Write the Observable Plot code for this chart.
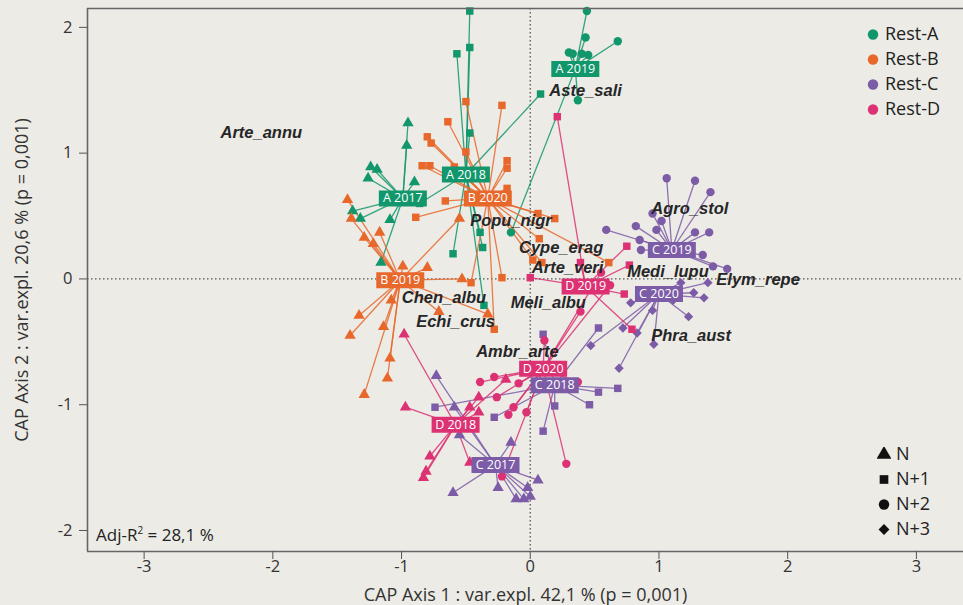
<!DOCTYPE html>
<html><head><meta charset="utf-8">
<script src="https://cdn.jsdelivr.net/npm/d3@7"></script>
<script src="https://cdn.jsdelivr.net/npm/@observablehq/plot@0.6"></script>
<style>
html,body{margin:0;padding:0;background:#ecebe6;}
#wrap{position:relative;width:963px;height:605px;overflow:hidden;font-family:"Open Sans",sans-serif;color:#222;}
.leg{position:absolute;font-size:18px;line-height:1;white-space:nowrap;}
.leg svg{vertical-align:middle;margin-right:5px;margin-top:-3px;}
</style></head><body><div id="wrap"></div>
<script>
// ---- data ----
const rests = ["Rest-A", "Rest-B", "Rest-C", "Rest-D"];
const restColors = ["#12966b", "#e8672b", "#7c5ca7", "#dc3273"];
const stages = ["N", "N+1", "N+2", "N+3"];
const stageSymbols = ["triangle", "square", "circle", "diamond2"];

const groupNames = ["A 2017", "A 2018", "A 2019", "B 2019", "B 2020", "C 2017", "C 2018", "C 2019", "C 2020", "D 2018", "D 2019", "D 2020"];
const groupRest  = ["Rest-A", "Rest-A", "Rest-A", "Rest-B", "Rest-B", "Rest-C", "Rest-C", "Rest-C", "Rest-C", "Rest-D", "Rest-D", "Rest-D"];
const groupStage = ["N", "N+1", "N+2", "N", "N+1", "N", "N+1", "N+2", "N+3", "N", "N+1", "N+2"];
const centroidX  = [-0.99, -0.50, 0.35, -1.01, -0.33, -0.27, 0.19, 1.10, 1.00, -0.58, 0.43, 0.10];
const centroidY  = [0.64, 0.83, 1.67, -0.01, 0.64, -1.48, -0.845, 0.23, -0.12, -1.16, -0.06, -0.715];

const sitesA2017 = [[-0.95,1.24],[-0.96,1.06],[-1.24,0.89],[-1.19,0.87],[-1.26,0.80],[-0.90,0.77],[-1.38,0.54],[-1.32,0.48],[-1.09,0.47],[-1.16,0.13]];
const sitesA2018 = [[-0.47,2.13],[-0.47,1.84],[-0.57,1.79],[-0.47,1.16],[0.08,1.47],[-0.86,0.60],[-0.39,0.37],[-0.37,0.25],[-0.60,0.20],[-0.36,-0.21]];
const sitesA2019 = [[0.44,2.13],[0.43,1.92],[0.68,1.89],[0.30,1.80],[0.33,1.79],[0.40,1.79],[0.45,1.78],[0.37,1.42],[-0.15,0.37]];
const sitesB2019 = [[-1.42,0.63],[-1.39,0.48],[-1.29,0.33],[-1.22,0.28],[-1.17,0.37],[-0.99,0.10],[-0.80,0.09],[-0.55,0.48],[-0.53,0.00],[-0.71,-0.26],[-0.33,-0.28],[-1.33,-0.29],[-1.40,-0.45],[-1.14,-0.38],[-1.08,-0.17],[-1.09,-0.63],[-1.11,-0.79],[-1.29,-0.92]];
const sitesB2020 = [[-0.50,1.41],[-0.22,1.38],[-0.64,1.25],[-0.80,1.13],[-0.77,1.08],[-0.50,1.01],[-0.84,0.90],[-0.78,0.90],[-0.59,0.89],[-0.18,0.94],[-0.18,0.88],[-0.66,0.62],[-0.89,0.49],[-0.18,0.72],[0.06,0.52],[0.19,0.48],[0.02,0.15],[0.09,0.13],[0.07,0.32],[0.61,0.13],[-0.46,-0.03],[-0.22,0.01],[-0.28,-0.40]];
const sitesC2017 = [[-0.73,-0.77],[-0.59,-1.02],[-0.15,-1.30],[0.06,-1.60],[-0.25,-1.66],[-0.60,-1.70],[-0.02,-1.66],[-0.11,-1.75],[-0.05,-1.75],[0.00,-1.73],[-0.55,-1.24]];
const sitesC2018 = [[0.10,-0.44],[0.53,-0.39],[-0.74,-1.02],[-0.28,-1.10],[0.19,-1.01],[0.10,-1.21],[0.46,-1.00],[0.53,-0.90],[0.68,-0.87]];
const sitesC2019 = [[1.06,0.80],[1.28,0.78],[1.40,0.69],[0.95,0.52],[1.02,0.46],[0.59,0.39],[0.82,0.42],[0.85,0.31],[0.86,0.23],[1.28,0.37],[1.39,0.37],[1.34,0.19],[1.42,0.10],[1.53,0.08],[0.98,0.39]];
const sitesC2020 = [[1.17,-0.03],[1.38,-0.03],[1.27,-0.11],[1.35,-0.15],[1.23,-0.30],[0.78,-0.19],[0.72,-0.39],[0.96,-0.52],[0.69,-0.71],[0.47,-0.53],[0.83,-0.43],[0.95,-0.25],[1.11,-0.17]];
const sitesD2018 = [[-0.98,-0.44],[-0.97,-1.02],[-0.40,-0.94],[-0.47,-1.02],[-0.19,-0.80],[-0.40,-1.06],[-0.78,-1.41],[-0.81,-1.53],[-0.83,-1.58],[-0.47,-1.46]];
const sitesD2019 = [[0.75,0.26],[0.39,0.13],[0.77,0.11],[0.73,-0.12],[0.79,-0.40],[0.00,0.01],[0.21,1.29]];
const sitesD2020 = [[0.11,-0.49],[0.39,-0.26],[-0.39,-0.82],[-0.28,-0.78],[-0.26,-0.94],[-0.09,-0.83],[0.37,-0.82],[-0.17,-1.08],[-0.13,-1.02],[-0.03,-1.06],[0.28,-1.47],[-0.22,-1.57],[0.55,0.05],[0.62,-0.05]];
const sitesByGroup = [sitesA2017, sitesA2018, sitesA2019, sitesB2019, sitesB2020, sitesC2017, sitesC2018, sitesC2019, sitesC2020, sitesD2018, sitesD2019, sitesD2020];

const speciesNames = ["Arte_annu", "Aste_sali", "Popu_nigr", "Cype_erag", "Arte_veri", "Agro_stol", "Medi_lupu", "Elym_repe", "Chen_albu", "Meli_albu", "Echi_crus", "Phra_aust", "Ambr_arte"];
const speciesX = [-2.09, 0.43, -0.15, 0.24, 0.29, 1.24, 1.07, 1.77, -0.67, 0.14, -0.58, 1.25, -0.10];
const speciesY = [1.16, 1.50, 0.46, 0.25, 0.09, 0.56, 0.06, -0.01, -0.15, -0.19, -0.34, -0.45, -0.575];

const xTicks = [-3, -2, -1, 0, 1, 2, 3];
const yTicks = [-2, -1, 0, 1, 2];
const xTitle = "CAP Axis 1 : var.expl. 42,1 % (p = 0,001)";
const yTitle = "CAP Axis 2 : var.expl. 20,6 % (p = 0,001)";

// ---- tables ----
const centroids = groupNames.map((g, i) => ({name: g, rest: groupRest[i], stage: groupStage[i], x: centroidX[i], y: centroidY[i]}));
const sites = sitesByGroup.flatMap((arr, i) => arr.map(([x, y]) => ({x, y, cx: centroidX[i], cy: centroidY[i], rest: groupRest[i], stage: groupStage[i]})));
const species = speciesNames.map((s, i) => ({name: s, x: speciesX[i], y: speciesY[i]}));

const xDom = [-3.44, 3.366], yDom = [-2.167, 2.15];

const boxSymbol = {draw(ctx) { const w = 24, h = 8; ctx.moveTo(-w, -h); ctx.lineTo(w, -h); ctx.lineTo(w, h); ctx.lineTo(-w, h); ctx.closePath(); }};

const chart = Plot.plot({
  width: 963, height: 605,
  marginLeft: 87, marginRight: 0, marginTop: 8, marginBottom: 54,
  style: {background: "transparent", fontFamily: "'Open Sans', sans-serif", fontSize: "16px", color: "#333", overflow: "visible"},
  x: {domain: xDom},
  y: {domain: yDom},
  color: {domain: rests, range: restColors},
  symbol: {domain: stages, range: stageSymbols},
  marks: [
    Plot.ruleX([0], {stroke: "#555", strokeDasharray: "1.5,2.5", strokeWidth: 1.3}),
    Plot.ruleY([0], {stroke: "#555", strokeDasharray: "1.5,2.5", strokeWidth: 1.3}),
    Plot.link(sites, {x1: "x", y1: "y", x2: "cx", y2: "cy", stroke: "rest", strokeWidth: 1.3, strokeOpacity: 0.85}),
    Plot.dot(sites, {x: "x", y: "y", fill: "rest", symbol: "stage", r: 4.2, stroke: "none"}),
    Plot.dot(centroids, {x: "x", y: "y", fill: "rest", symbol: boxSymbol, stroke: "none"}),
    Plot.text(centroids, {x: "x", y: "y", text: "name", fill: "white", fontSize: 12.5, fontFamily: "'Open Sans', sans-serif"}),
    Plot.text(species, {x: "x", y: "y", text: "name", fill: "#262626", fontSize: 16.5, fontWeight: "bold", fontStyle: "italic", fontFamily: "'Liberation Sans', Arial, sans-serif"}),
    Plot.ruleX([xDom[0]], {stroke: "#666", strokeWidth: 1.6}),
    Plot.ruleY(yDom, {stroke: "#666", strokeWidth: 1.6}),
    Plot.axisX({ticks: xTicks, tickSize: 8, tickPadding: 1, tickFormat: d => String(d), stroke: "#555", fill: "#333", fontSize: 16.5,
      label: xTitle, labelAnchor: "center", labelArrow: "none", labelOffset: 49}),
    Plot.axisY({ticks: yTicks, tickSize: 8, tickPadding: 7, tickFormat: d => String(d), stroke: "#555", fill: "#333", fontSize: 16.5,
      label: yTitle, labelAnchor: "center", labelArrow: "none", labelOffset: 72})
  ]
});
d3.select(chart).selectAll("[aria-label='x-axis label'] text, [aria-label='y-axis label'] text").style("font-size", "18px");
const wrap = document.getElementById("wrap");
wrap.appendChild(chart);

// ---- legends (HTML overlay) ----
function symSvg(kind, color) {
  const s = d3.create("svg").attr("width", 14).attr("height", 14);
  const sym = {triangle: d3.symbolTriangle, square: d3.symbolSquare, circle: d3.symbolCircle, diamond2: d3.symbolDiamond2}[kind];
  const size = {triangle: 95, square: 75, circle: 85, diamond2: 75}[kind];
  s.append("path").attr("transform", "translate(7,7.5)").attr("d", d3.symbol(sym, size)()).attr("fill", color);
  return s.node().outerHTML;
}
rests.forEach((r, i) => {
  const d = document.createElement("div");
  d.className = "leg";
  d.style.left = "866px"; d.style.top = (24 + i * 25) + "px";
  d.innerHTML = symSvg("circle", restColors[i]) + r;
  wrap.appendChild(d);
});
stages.forEach((s, i) => {
  const d = document.createElement("div");
  d.className = "leg";
  d.style.left = "877px"; d.style.top = (444 + i * 25) + "px";
  d.innerHTML = symSvg(stageSymbols[i], "#111") + s;
  wrap.appendChild(d);
});
const adj = document.createElement("div");
adj.className = "leg";
adj.style.left = "96px"; adj.style.top = "525px"; adj.style.fontSize = "17px";
adj.innerHTML = "Adj-R<sup style='font-size:10px'>2</sup> = 28,1 %";
wrap.appendChild(adj);
</script>
</body></html>
